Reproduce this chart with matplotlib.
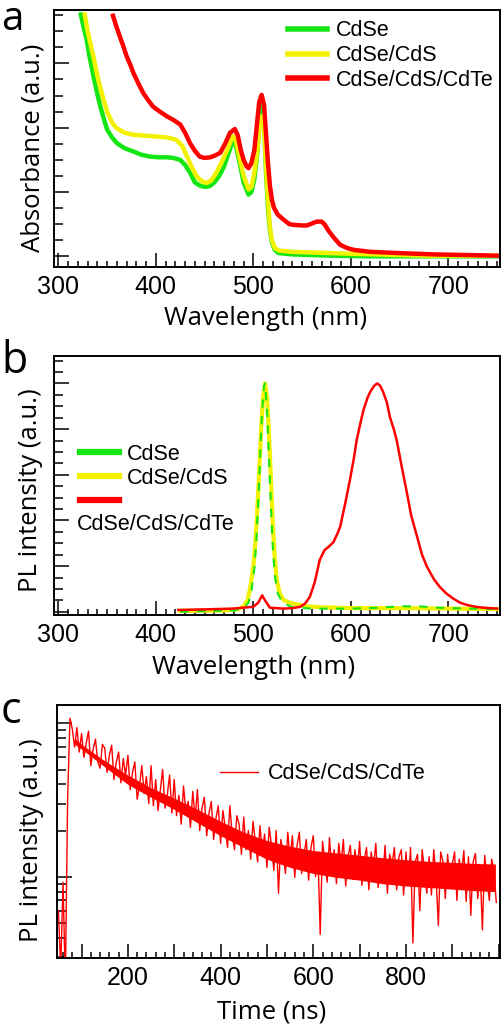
import matplotlib
matplotlib.use('Agg')
import matplotlib.pyplot as plt
from matplotlib.ticker import MultipleLocator, FuncFormatter, LogLocator, NullFormatter
import numpy as np

# ---------------- panel a : absorbance ----------------
abs_cdse_wl = [323, 326, 329, 332, 336, 340, 343, 347, 350, 355, 360, 368, 377, 385, 394, 403, 411,
               418, 425, 430, 435, 440, 445, 450, 455, 460, 465, 470, 475, 479, 482, 486, 490, 495,
               498, 501, 504, 506, 508, 509.5, 511, 513, 515, 517, 519, 522, 526, 540, 580, 620, 750]
abs_cdse = [3.76, 3.55, 3.37, 3.10, 2.80, 2.52, 2.33, 2.12, 1.97, 1.85, 1.76, 1.68, 1.63, 1.58, 1.55,
            1.54, 1.54, 1.53, 1.50, 1.42, 1.30, 1.15, 1.10, 1.08, 1.09, 1.15, 1.25, 1.40, 1.62, 1.80,
            1.72, 1.45, 1.15, 0.96, 1.00, 1.20, 1.60, 2.00, 2.40, 2.43, 2.10, 1.30, 0.75, 0.40, 0.22,
            0.10, 0.05, 0.03, 0.01, 0.0, 0.0]

abs_cdse_cds_wl = [327, 330, 333, 336, 340, 343, 347, 350, 355, 360, 368, 377, 394, 411, 421, 427, 432,
                   437, 442, 447, 452, 457, 462, 468, 473, 479, 482, 486, 490, 495, 498, 501, 504, 506,
                   509, 511, 513, 515, 517, 519, 522, 526, 540, 560, 600, 650, 680, 750]
abs_cdse_cds = [3.76, 3.50, 3.30, 3.10, 2.80, 2.62, 2.40, 2.25, 2.08, 1.99, 1.92, 1.89, 1.87, 1.85,
                1.81, 1.72, 1.55, 1.38, 1.24, 1.17, 1.14, 1.18, 1.30, 1.48, 1.65, 1.87, 1.80, 1.52,
                1.25, 1.04, 1.08, 1.30, 1.65, 1.95, 2.18, 2.00, 1.40, 0.85, 0.45, 0.25, 0.13, 0.09,
                0.07, 0.06, 0.04, 0.02, 0.01, 0.01]

abs_cdte_wl = [356, 360, 363, 367, 370, 374, 377, 382, 387, 392, 397, 404, 411, 418, 425, 430, 435,
               440, 445, 450, 456, 461, 466, 471, 476, 481, 484, 487, 490, 493, 495, 498, 501, 504,
               506, 508.5, 511, 513, 515, 517, 519, 521, 525, 531, 537, 541, 550, 555, 560, 565, 570,
               573, 577, 582, 589, 596, 603, 620, 650, 685, 720, 750]
abs_cdte = [3.74, 3.55, 3.42, 3.25, 3.11, 2.97, 2.85, 2.69, 2.54, 2.43, 2.33, 2.25, 2.18, 2.12, 2.05,
            1.92, 1.76, 1.64, 1.55, 1.53, 1.54, 1.57, 1.61, 1.75, 1.92, 1.98, 1.88, 1.66, 1.50, 1.40,
            1.37, 1.45, 1.65, 2.10, 2.40, 2.51, 2.35, 1.90, 1.45, 1.10, 0.88, 0.76, 0.65, 0.57, 0.50,
            0.49, 0.48, 0.48, 0.51, 0.54, 0.54, 0.50, 0.40, 0.30, 0.18, 0.13, 0.10, 0.07, 0.05, 0.03,
            0.02, 0.01]

# ---------------- panel b : PL spectra ----------------
pl_cdse_wl = [425, 480, 490, 495, 498, 501, 503, 505, 507, 509, 511, 512, 514, 516, 518, 520, 522, 525,
              530, 540, 560, 600, 630, 650, 670, 690, 720, 750]
pl_cdse = [0.0, 0.03, 0.08, 0.20, 0.45, 0.95, 1.55, 2.40, 3.40, 4.40, 4.95, 5.0, 4.40, 3.40, 2.30,
           1.40, 0.80, 0.40, 0.20, 0.10, 0.07, 0.07, 0.09, 0.12, 0.12, 0.09, 0.07, 0.06]

pl_cdse_cds_wl = [425, 470, 485, 490, 494, 497, 500, 502, 504, 506, 508, 510, 512, 514, 516, 518, 520,
                  522, 524, 527, 531, 537, 545, 555, 570, 600, 650, 700, 750]
pl_cdse_cds = [0.02, 0.03, 0.06, 0.12, 0.25, 0.55, 1.00, 1.50, 2.20, 3.10, 4.00, 4.70, 5.00, 4.70,
               3.90, 2.90, 1.90, 1.15, 0.70, 0.40, 0.26, 0.20, 0.16, 0.12, 0.10, 0.08, 0.08, 0.07, 0.06]

pl_cdte_wl = [423, 445, 479, 500, 505, 509, 512, 517, 531, 540, 548, 553, 558, 563, 568, 573, 577, 582,
              586, 589, 594, 599, 603, 606, 610, 613, 617, 620, 624, 627, 630, 633, 637, 640, 644, 647,
              652, 657, 662, 668, 673, 678, 685, 691, 698, 705, 712, 719, 728, 736, 750]
pl_cdte = [0.04, 0.05, 0.07, 0.11, 0.20, 0.36, 0.25, 0.09, 0.07, 0.08, 0.11, 0.18, 0.33, 0.65, 1.13,
           1.35, 1.42, 1.52, 1.70, 1.86, 2.35, 2.88, 3.35, 3.76, 4.15, 4.42, 4.68, 4.82, 4.95, 5.00,
           4.95, 4.82, 4.58, 4.27, 4.00, 3.76, 3.20, 2.66, 2.10, 1.64, 1.25, 0.99, 0.72, 0.55, 0.40,
           0.29, 0.20, 0.15, 0.11, 0.09, 0.07]

# ---------------- panel c : PL decay (counts, 5 ns bins from 50 ns) ----------------
decay_time = np.arange(50, 1000, 5)
decay_counts = [
    600, 250, 920, 200, 3300, 10800, 9200, 7000, 9400, 6500,
    8600, 6000, 7400, 8900, 5300, 6800, 7900, 5600, 5100, 7300,
    6900, 4800, 6200, 7200, 4300, 5600, 6500, 4100, 5900, 4600,
    6200, 3700, 4800, 5600, 3200, 3900, 5300, 3500, 4500, 3000,
    5300, 2900, 4300, 2700, 3700, 5000, 2800, 3400, 4600, 2600,
    4300, 2500, 3400, 2200, 3900, 2700, 3100, 2100, 3600, 2400,
    3700, 2000, 2800, 3300, 1850, 2600, 3100, 1750, 2400, 2900,
    1650, 2700, 2100, 1550, 2900, 1900, 1500, 2500, 2200, 1400,
    2450, 1500, 2000, 1300, 2300, 1700, 1250, 2150, 1450, 1900,
    1150, 2100, 1600, 1100, 2000, 780, 1750, 1400, 1050, 1950,
    1300, 1850, 990, 1600, 1950, 1050, 1400, 1750, 950, 1550,
    1850, 1000, 1450, 420, 1700, 1250, 920, 1800, 1100, 1500,
    900, 1650, 1200, 1750, 870, 1350, 1600, 960, 1500, 1100,
    1700, 880, 1300, 1550, 820, 1450, 1150, 1650, 850, 1250,
    1000, 1600, 780, 1400, 1200, 1550, 820, 1350, 1500, 760,
    1450, 900, 1550, 370, 1250, 1400, 600, 1500, 1100, 780,
    1350, 760, 1500, 1000, 480, 1450, 1250, 720, 1400, 900,
    1200, 1450, 700, 1300, 1050, 1480, 690, 1350, 560, 1250,
    1420, 720, 1150, 450, 1380, 950, 700, 1300, 1100, 680,
]
# dense core of the noisy trace (solid red band)
core_time = [85, 100, 150, 200, 250, 300, 350, 400, 450, 500, 550, 600, 650, 700, 750, 800, 850, 900, 950, 993]
core_hi = [8000, 7300, 5700, 4600, 3800, 3250, 2750, 2300, 1950, 1720, 1580, 1480, 1430, 1380, 1330,
           1290, 1260, 1240, 1220, 1210]
core_lo = [7300, 6800, 5200, 4000, 3300, 2750, 2250, 1850, 1550, 1300, 1150, 1050, 990, 950, 900, 870,
           850, 830, 810, 800]

labels = ['CdSe', 'CdSe/CdS', 'CdSe/CdS/CdTe']
GREEN, YELLOW, RED = '#14e614', '#f2f200', '#ff0000'

TICKFONT = 'Liberation Sans'
LABELFONT = 'Open Sans'
plt.rcParams['font.family'] = TICKFONT

fig = plt.figure(figsize=(5.04, 10.27), dpi=100)
W, H = 504.0, 1027.0


def box(left, top, right, bottom):
    return [left / W, 1 - bottom / H, (right - left) / W, (bottom - top) / H]


def style(ax):
    for s in ax.spines.values():
        s.set_linewidth(1.4)
    ax.tick_params(which='both', direction='in', top=False, right=False, width=1.1, colors='black',
                   labelsize=18, labelfontfamily=TICKFONT)
    ax.tick_params(axis='x', which='major', length=10, pad=6)
    ax.tick_params(axis='x', which='minor', length=4.3)
    ax.tick_params(axis='y', which='major', length=11)
    ax.tick_params(axis='y', which='minor', length=6.5)
    ax.set_yticklabels([])


# ---------- a ----------
ax1 = fig.add_axes(box(54, 10, 500, 267))
ax1.plot(abs_cdse_wl, abs_cdse, color=GREEN, lw=3.2, label=labels[0])
ax1.plot(abs_cdse_cds_wl, abs_cdse_cds, color=YELLOW, lw=3.2, label=labels[1])
ax1.plot(abs_cdte_wl, abs_cdte, color=RED, lw=3.2, label=labels[2])
ax1.set_xlim(295.5, 753)
ax1.set_ylim(-0.166, 3.83)
ax1.xaxis.set_major_locator(MultipleLocator(100))
ax1.xaxis.set_minor_locator(MultipleLocator(10))
ax1.yaxis.set_major_locator(MultipleLocator(1))
ax1.yaxis.set_minor_locator(MultipleLocator(0.25))
style(ax1)
ax1.set_xlabel('Wavelength (nm)', fontfamily=LABELFONT, fontsize=18.5)
ax1.set_ylabel('Absorbance (a.u.)', fontfamily=LABELFONT, fontsize=18.5)
ax1.xaxis.set_label_coords(0.475, -0.150)
ax1.yaxis.set_label_coords(-0.018, 0.463)
leg1 = ax1.legend(loc='upper left', bbox_to_anchor=(0.525, 0.96), frameon=False, borderpad=0,
                  borderaxespad=0, handlelength=1.8, handletextpad=0.4, labelspacing=0.18,
                  prop={'family': TICKFONT, 'size': 15.5})
for h in leg1.get_lines():
    h.set_linewidth(4)

# ---------- b ----------
ax2 = fig.add_axes(box(54, 356, 500, 615))
ax2.plot(pl_cdse_cds_wl, pl_cdse_cds, color=YELLOW, lw=3.0, label=labels[1], zorder=2)
ax2.plot(pl_cdse_wl, pl_cdse, color=GREEN, lw=1.5, dashes=(4, 4), label=labels[0], zorder=3)
ax2.plot(pl_cdte_wl, pl_cdte, color=RED, lw=1.8, label=' ', zorder=4)
ax2.set_xlim(295.5, 753)
ax2.set_ylim(-0.07, 5.6)
ax2.xaxis.set_major_locator(MultipleLocator(100))
ax2.xaxis.set_minor_locator(MultipleLocator(10))
ax2.yaxis.set_major_locator(MultipleLocator(1))
ax2.yaxis.set_minor_locator(MultipleLocator(0.25))
style(ax2)
ax2.set_xlabel('Wavelength (nm)', fontfamily=LABELFONT, fontsize=18.5)
ax2.set_ylabel('PL intensity (a.u.)', fontfamily=LABELFONT, fontsize=18.5)
ax2.xaxis.set_label_coords(0.448, -0.153)
ax2.yaxis.set_label_coords(-0.025, 0.483)
hs, ls = ax2.get_legend_handles_labels()
order = [1, 0, 2]
leg2 = ax2.legend([hs[i] for i in order], [ls[i] for i in order], loc='upper left',
                  bbox_to_anchor=(0.058, 0.662), frameon=False, borderpad=0, borderaxespad=0,
                  handlelength=1.8, handletextpad=0.4, labelspacing=0.15,
                  prop={'family': TICKFONT, 'size': 15.5})
for h in leg2.get_lines():
    h.set_linewidth(4.5)
    h.set_linestyle('-')
ax2.text(0.052, 0.348, labels[2], transform=ax2.transAxes, ha='left', va='center',
         fontfamily=TICKFONT, fontsize=15.5)

# ---------- c ----------
ax3 = fig.add_axes(box(57, 705, 500, 958))
ax3.fill_between(core_time, core_lo, core_hi, color=RED, lw=0)
ax3.plot(decay_time, decay_counts, color=RED, lw=1.0, label=labels[2])
ax3.set_yscale('log')
ax3.set_xlim(47, 1003)
ax3.set_ylim(295, 13180)
ax3.xaxis.set_major_locator(MultipleLocator(100))
ax3.xaxis.set_minor_locator(MultipleLocator(20))
ax3.xaxis.set_major_formatter(FuncFormatter(lambda v, p: '%d' % v if (v % 200 == 0 and 0 < v < 1000) else ''))
ax3.yaxis.set_major_locator(LogLocator(base=10))
ax3.yaxis.set_minor_locator(LogLocator(base=10, subs=np.arange(2, 10)))
ax3.yaxis.set_major_formatter(NullFormatter())
ax3.yaxis.set_minor_formatter(NullFormatter())
style(ax3)
ax3.set_xlabel('Time (ns)', fontfamily=LABELFONT, fontsize=18.5)
ax3.set_ylabel('PL intensity (a.u.)', fontfamily=LABELFONT, fontsize=18.5)
ax3.xaxis.set_label_coords(0.485, -0.166)
ax3.yaxis.set_label_coords(-0.029, 0.466)
ax3.legend(loc='upper left', bbox_to_anchor=(0.368, 0.77), frameon=False, borderpad=0,
           borderaxespad=0, handlelength=1.75, handletextpad=0.45,
           prop={'family': TICKFONT, 'size': 15.5})

# panel letters
fig.text(0.002, 1.0, 'a', fontfamily=LABELFONT, fontsize=29, va='top')
fig.text(0.002, 1 - 373 / H, 'b', fontfamily=LABELFONT, fontsize=31, va='baseline')
fig.text(0.002, 1 - 723 / H, 'c', fontfamily=LABELFONT, fontsize=31, va='baseline')

fig.savefig('out.png', dpi=100)
